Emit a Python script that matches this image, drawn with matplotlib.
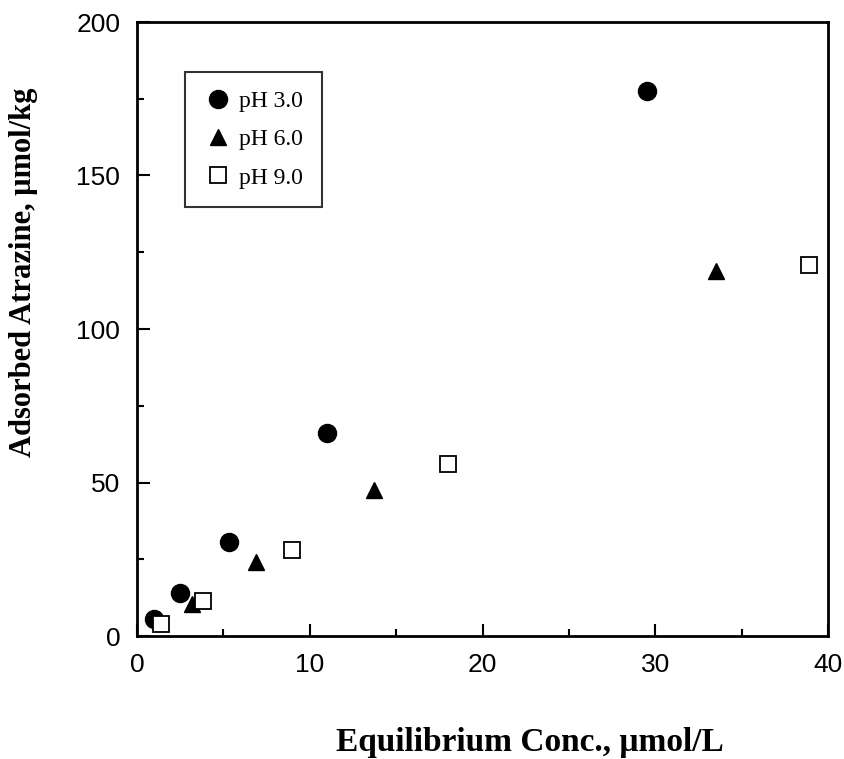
import matplotlib
matplotlib.use("Agg")
import matplotlib.pyplot as plt
from matplotlib.ticker import MultipleLocator

# Data
ph3_x = [1.0, 2.5, 5.3, 11.0, 29.5]
ph3_y = [5.5, 14.0, 30.5, 66.0, 177.5]
ph6_x = [3.2, 6.9, 13.7, 33.5]
ph6_y = [10.5, 24.0, 47.5, 119.0]
ph9_x = [1.4, 3.8, 9.0, 18.0, 38.9]
ph9_y = [4.0, 11.5, 28.0, 56.0, 121.0]
labels = ["pH 3.0", "pH 6.0", "pH 9.0"]

serif = ["Liberation Serif", "DejaVu Serif"]
sans = ["Liberation Sans", "DejaVu Sans"]

fig = plt.figure(figsize=(8.45, 7.59), dpi=100)
ax = fig.add_axes([137/845, 1-636/759, (828-137)/845, (636-22)/759])

ax.plot(ph3_x, ph3_y, 'o', color='black', markersize=13, label=labels[0], clip_on=False)
ax.plot(ph6_x, ph6_y, '^', color='black', markersize=12, label=labels[1], clip_on=False)
ax.plot(ph9_x, ph9_y, 's', markerfacecolor='white', markeredgecolor='black',
        markeredgewidth=1.3, markersize=11, label=labels[2], clip_on=False)

ax.set_xlim(0, 40)
ax.set_ylim(0, 200)
ax.xaxis.set_major_locator(MultipleLocator(10))
ax.xaxis.set_minor_locator(MultipleLocator(5))
ax.yaxis.set_major_locator(MultipleLocator(50))
ax.yaxis.set_minor_locator(MultipleLocator(25))
ax.tick_params(which='both', direction='in', width=1.5)
ax.tick_params(which='major', length=9, pad=12)
ax.tick_params(which='minor', length=5)
for s in ax.spines.values():
    s.set_linewidth(2)
for lab in ax.get_xticklabels() + ax.get_yticklabels():
    lab.set_family(sans)
    lab.set_fontsize(19)

ax.set_xlabel("Equilibrium Conc., \u03bcmol/L", family=serif, fontsize=24,
              fontweight='bold', va='center')
ax.xaxis.set_label_coords((530-137)/691, (636-742)/614)
ax.set_ylabel("Adsorbed Atrazine, \u03bcmol/kg", family=serif, fontsize=22,
              fontweight='bold', va='center')
ax.yaxis.set_label_coords((24-137)/691, (636-272)/614)

leg = ax.legend(loc='upper left', bbox_to_anchor=((185-137)/691, (636-72)/614),
                frameon=True, fancybox=False, edgecolor='black',
                prop={'family': serif, 'size': 17}, handletextpad=0.3,
                borderpad=0.8, labelspacing=0.7, handlelength=1.2,
                borderaxespad=0)
leg.get_frame().set_linewidth(1.5)

fig.savefig("out.png", dpi=100)
